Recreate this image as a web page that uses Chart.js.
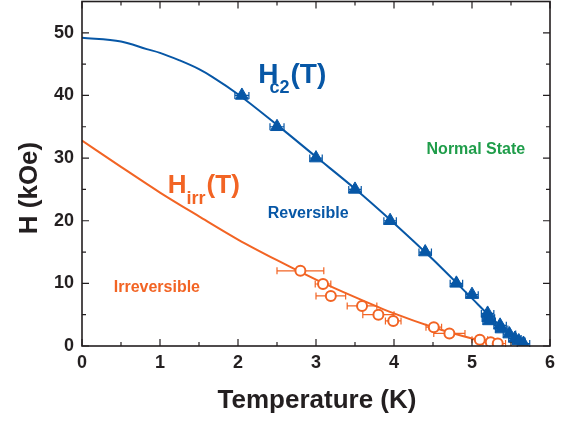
<!DOCTYPE html>
<html>
<head>
<meta charset="utf-8">
<script src="https://cdn.jsdelivr.net/npm/chart.js@4.4.1/dist/chart.umd.min.js"></script>
<style>
  html, body { margin: 0; padding: 0; background: #fff; }
  #wrap { width: 568px; height: 422px; }
</style>
</head>
<body>
<div id="wrap"><canvas id="chart" width="568" height="422"></canvas></div>
<script>
// Hc2 data (triangles): temperature (K), field (kOe), error in T
const hc2Temp  = [2.05, 2.5, 3.0, 3.5, 3.95, 4.4, 4.8, 5.0, 5.2, 5.21, 5.22, 5.36, 5.38, 5.48, 5.55, 5.6, 5.66];
const hc2Field = [40, 35, 30, 25, 20, 15, 10, 8.2, 5.2, 4.5, 4.0, 3.3, 2.7, 1.9, 1.2, 0.8, 0.4];
const hc2Err   = [0.09, 0.09, 0.08, 0.08, 0.08, 0.08, 0.08, 0.08, 0.08, 0.08, 0.08, 0.08, 0.08, 0.08, 0.08, 0.08, 0.08];

// Hirr data (open circles)
const irrTemp  = [2.8, 3.09, 3.19, 3.59, 3.8, 3.99, 4.51, 4.71, 5.1, 5.24, 5.33];
const irrField = [12.0, 9.9, 8.0, 6.4, 5.0, 4.0, 3.0, 2.0, 1.0, 0.6, 0.4];
const irrErr   = [0.3, 0.1, 0.19, 0.19, 0.2, 0.1, 0.1, 0.2, 0.1, 0.1, 0.1];

// fitted curves
const hc2FitTemp  = [0, 0.5, 0.83, 1.0, 1.25, 1.5, 1.68, 2.0, 2.5, 3.0, 3.5, 4.0, 4.5, 5.0, 5.25, 5.5, 5.7];
const hc2FitField = [49.2, 48.6, 47.4, 46.8, 45.6, 44.2, 42.9, 40.2, 35.3, 30.2, 25.1, 19.6, 13.8, 7.6, 4.5, 1.7, 0];
const irrFitTemp  = [0, 0.5, 1.0, 1.5, 2.0, 2.5, 3.0, 3.5, 4.0, 4.5, 5.0, 5.4];
const irrFitField = [32.8, 28.6, 24.5, 20.7, 17.0, 13.7, 10.6, 7.8, 5.2, 3.0, 1.2, 0];

// ticks
const xTicks = [0, 1, 2, 3, 4, 5, 6];
const xMinor = [0.5, 1.5, 2.5, 3.5, 4.5, 5.5];
const yTicks = [0, 10, 20, 30, 40, 50];
const yMinor = [5, 15, 25, 35, 45];

const BLUE = '#0757a6';
const ORANGE = '#f26424';
const GREEN = '#1f9d4a';
const INK = '#231f20';
const FONT = '"Liberation Sans", Arial, Helvetica, sans-serif';

function pts(xs, ys) {
    return xs.map((x, i) => ({ x: x, y: ys[i] }));
}

// horizontal error bars, drawn under the markers
const errorBars = {
    id: 'errorBars',
    beforeDatasetsDraw(chart) {
        const ctx = chart.ctx;
        const xs = chart.scales.x, ys = chart.scales.y;
        const sets = [
            [hc2Temp, hc2Field, hc2Err, BLUE],
            [irrTemp, irrField, irrErr, ORANGE]
        ];
        ctx.save();
        ctx.lineWidth = 1.2;
        sets.forEach(([t, h, e, col]) => {
            ctx.strokeStyle = col;
            t.forEach((v, i) => {
                const x1 = xs.getPixelForValue(v - e[i]);
                const x2 = xs.getPixelForValue(v + e[i]);
                const y = ys.getPixelForValue(h[i]);
                ctx.beginPath();
                ctx.moveTo(x1, y); ctx.lineTo(x2, y);
                ctx.moveTo(x1, y - 3.5); ctx.lineTo(x1, y + 3.5);
                ctx.moveTo(x2, y - 3.5); ctx.lineTo(x2, y + 3.5);
                ctx.stroke();
            });
        });
        ctx.restore();
    }
};

// box frame with inward ticks, axis titles and text labels
const frame = {
    id: 'frame',
    afterDraw(chart) {
        const ctx = chart.ctx;
        const a = chart.chartArea;
        const xs = chart.scales.x, ys = chart.scales.y;
        ctx.save();
        ctx.strokeStyle = INK;
        ctx.lineWidth = 1.6;
        ctx.strokeRect(a.left, a.top, a.right - a.left, a.bottom - a.top);

        ctx.lineWidth = 1.2;
        ctx.beginPath();
        const xt = (v, len) => {
            const x = xs.getPixelForValue(v);
            ctx.moveTo(x, a.bottom); ctx.lineTo(x, a.bottom - len);
            ctx.moveTo(x, a.top); ctx.lineTo(x, a.top + len);
        };
        const yt = (v, len) => {
            const y = ys.getPixelForValue(v);
            ctx.moveTo(a.left, y); ctx.lineTo(a.left + len, y);
            ctx.moveTo(a.right, y); ctx.lineTo(a.right - len, y);
        };
        xTicks.forEach(v => xt(v, 7));
        xMinor.forEach(v => xt(v, 4));
        yTicks.forEach(v => yt(v, 7));
        yMinor.forEach(v => yt(v, 4));
        ctx.stroke();

        // axis titles
        ctx.fillStyle = INK;
        ctx.font = 'bold 26px ' + FONT;
        ctx.textAlign = 'center';
        ctx.textBaseline = 'middle';
        ctx.fillText('Temperature (K)', 317, 401);
        ctx.save();
        ctx.translate(30, 188);
        ctx.rotate(-Math.PI / 2);
        ctx.fillText('H (kOe)', 0, 0);
        ctx.restore();

        // region labels
        ctx.font = 'bold 16px ' + FONT;
        ctx.fillStyle = BLUE;
        ctx.fillText('Reversible', xs.getPixelForValue(2.9), ys.getPixelForValue(21.2));
        ctx.fillStyle = GREEN;
        ctx.fillText('Normal State', xs.getPixelForValue(5.05), ys.getPixelForValue(31.4));
        ctx.fillStyle = ORANGE;
        ctx.fillText('Irreversible', xs.getPixelForValue(0.96), ys.getPixelForValue(9.4));

        // curve labels with subscripts
        const subLabel = (main, sub, tail, x, y, big, small, drop, col, shift) => {
            ctx.fillStyle = col;
            ctx.textAlign = 'left';
            ctx.textBaseline = 'alphabetic';
            ctx.font = 'bold ' + big + 'px ' + FONT;
            ctx.fillText(main, x, y);
            let cx = x + ctx.measureText(main).width + shift;
            ctx.font = 'bold ' + small + 'px ' + FONT;
            ctx.fillText(sub, cx, y + drop);
            cx += ctx.measureText(sub).width + 1;
            ctx.font = 'bold ' + big + 'px ' + FONT;
            ctx.fillText(tail, cx, y);
        };
        subLabel('H', 'c2', '(T)', xs.getPixelForValue(2.26), ys.getPixelForValue(42.0), 28, 18, 10, BLUE, -9);
        subLabel('H', 'irr', '(T)', xs.getPixelForValue(1.1), ys.getPixelForValue(24.5), 26, 18, 11, ORANGE, 0);
        ctx.restore();
    }
};

const ctx = document.getElementById('chart').getContext('2d');
new Chart(ctx, {
    type: 'scatter',
    data: {
        datasets: [
            {
                label: 'Hc2 fit',
                data: pts(hc2FitTemp, hc2FitField),
                showLine: true,
                borderColor: BLUE,
                borderWidth: 2,
                pointRadius: 0,
                cubicInterpolationMode: 'monotone',
                order: 3
            },
            {
                label: 'Hirr fit',
                data: pts(irrFitTemp, irrFitField),
                showLine: true,
                borderColor: ORANGE,
                borderWidth: 2,
                pointRadius: 0,
                cubicInterpolationMode: 'monotone',
                order: 3
            },
            {
                label: 'Hc2',
                data: pts(hc2Temp, hc2Field),
                pointStyle: 'triangle',
                pointRadius: 7.5,
                backgroundColor: BLUE,
                borderColor: BLUE,
                borderWidth: 1,
                order: 1
            },
            {
                label: 'Hirr',
                data: pts(irrTemp, irrField),
                pointStyle: 'circle',
                pointRadius: 5,
                backgroundColor: '#ffffff',
                borderColor: ORANGE,
                borderWidth: 2,
                order: 2
            }
        ]
    },
    options: {
        responsive: false,
        animation: false,
        layout: { autoPadding: false, padding: { left: 0, top: 1.5, right: 18, bottom: 0 } },
        plugins: {
            legend: { display: false },
            tooltip: { enabled: false }
        },
        scales: {
            x: {
                type: 'linear',
                min: 0,
                max: 6,
                grid: { display: false, drawTicks: false },
                border: { display: false },
                ticks: {
                    padding: 6,
                    color: INK,
                    font: { family: FONT, size: 18, weight: 'bold' }
                },
                afterBuildTicks: (scale) => { scale.ticks = xTicks.map(v => ({ value: v })); },
                afterFit: (scale) => {
                    scale.height = 76;
                    scale.paddingLeft = 0;
                    scale.paddingRight = 0;
                }
            },
            y: {
                type: 'linear',
                min: 0,
                max: 55,
                grid: { display: false, drawTicks: false },
                border: { display: false },
                ticks: {
                    padding: 8,
                    color: INK,
                    font: { family: FONT, size: 18, weight: 'bold' }
                },
                afterBuildTicks: (scale) => { scale.ticks = yTicks.map(v => ({ value: v })); },
                afterFit: (scale) => {
                    scale.width = 82;
                    scale.paddingTop = 0;
                    scale.paddingBottom = 0;
                }
            }
        }
    },
    plugins: [errorBars, frame]
});
</script>
</body>
</html>
